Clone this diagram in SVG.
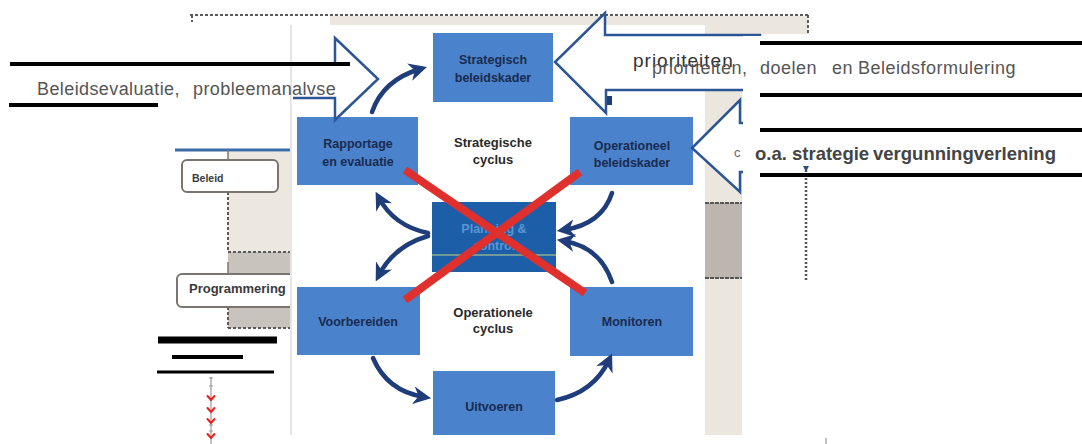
<svg xmlns="http://www.w3.org/2000/svg" width="1082" height="444" viewBox="0 0 1082 444">
  <style>
    .box { fill: #4a82cb; }
    .lbl { font-family: "Liberation Sans", Arial, sans-serif; font-weight: bold; font-size: 12.5px; fill: #1a2b50; text-anchor: middle; }
    .cyc { font-family: "Liberation Sans", Arial, sans-serif; font-weight: bold; font-size: 13px; fill: #2a2a2a; text-anchor: middle; }
    .flow { fill: none; stroke: #1f3d7a; stroke-width: 4.5; stroke-linecap: round; }
    .block { fill: #ffffff; stroke: #2c5596; stroke-width: 2.5; stroke-linejoin: miter; }
    .rule { stroke: #000000; }
    .note { font-family: "Liberation Sans", Arial, sans-serif; font-size: 18px; fill: #555555; }
    .cross { stroke: #e0302e; stroke-width: 8; stroke-linecap: butt; }
    .dash { fill: none; stroke: #5a5a5a; stroke-width: 2; stroke-dasharray: 3 2; }
  </style>
  <defs>
    <marker id="head" viewBox="0 0 10 10" refX="6" refY="5" markerWidth="4" markerHeight="4" orient="auto">
      <path d="M0,0 L10,5 L0,10 L3,5 Z" fill="#1f3d7a"/>
    </marker>
  </defs>

  <rect x="0" y="0" width="1082" height="444" fill="#ffffff"/>

  <!-- frame of the scanned sheet -->
  <rect x="330" y="16" width="478" height="10" fill="#ebe7de"/>
  <rect x="742" y="16" width="66" height="18" fill="#ebe7de"/>
  <line x1="190" y1="15" x2="808" y2="15" class="dash"/>
  <line x1="192" y1="15" x2="192" y2="22" class="dash"/>
  <line x1="808" y1="15" x2="808" y2="34" class="dash"/>

  <!-- left process column -->
  <g id="left-panel">
    <line x1="175" y1="150" x2="290" y2="150" stroke="#3d6aa8" stroke-width="3"/>
    <rect x="228" y="152" width="62" height="100" fill="#ece8e0"/>
    <rect x="228" y="252" width="62" height="30" fill="#c9c3bd"/>
    <rect x="228" y="307" width="62" height="21" fill="#c9c3bd"/>
    <line x1="228" y1="192" x2="228" y2="252" class="dash"/>
    <line x1="228" y1="252" x2="290" y2="252" class="dash"/>
    <line x1="228" y1="328" x2="290" y2="328" class="dash"/>
    <line x1="228" y1="307" x2="228" y2="328" class="dash"/>
    <line x1="228" y1="150" x2="228" y2="160" stroke="#777" stroke-width="1.5"/>
    <line x1="228" y1="262" x2="228" y2="274" stroke="#777" stroke-width="1.5"/>
    <g id="beleid">
      <rect x="182" y="160" width="96" height="32" rx="5" fill="#ffffff" stroke="#7a7570" stroke-width="2"/>
      <text x="192" y="182" font-family="'Liberation Sans', Arial, sans-serif" font-weight="bold" font-size="10.5" fill="#3a3a3a">Beleid</text>
    </g>
    <g id="programmering">
      <rect x="177" y="274" width="120" height="33" rx="5" fill="#ffffff" stroke="#7a7570" stroke-width="2"/>
      <text x="189" y="293" font-family="'Liberation Sans', Arial, sans-serif" font-weight="bold" font-size="13" fill="#3a3a3a">Programmering</text>
    </g>
  </g>

  <!-- cycle photo -->
  <rect x="290" y="25" width="415" height="410" fill="#ffffff"/>
  <line x1="291" y1="25" x2="291" y2="435" stroke="#dcdcdc" stroke-width="1.5"/>
  <rect x="705" y="25" width="37" height="410" fill="#ebe7de"/>
  <rect x="705" y="203" width="37" height="75" fill="#bdb6b0"/>
  <line x1="705" y1="203" x2="742" y2="203" stroke="#555" stroke-width="2" stroke-dasharray="4 1"/>
  <line x1="705" y1="278" x2="742" y2="278" stroke="#555" stroke-width="2" stroke-dasharray="4 1"/>

  <g id="strategisch-beleidskader">
    <rect class="box" x="433" y="33" width="120" height="69"/>
    <text class="lbl" x="493" y="64">Strategisch</text>
    <text class="lbl" x="493" y="82">beleidskader</text>
  </g>
  <g id="rapportage">
    <rect class="box" x="297" y="117" width="121" height="68"/>
    <text class="lbl" x="358" y="148">Rapportage</text>
    <text class="lbl" x="358" y="166">en evaluatie</text>
  </g>
  <g id="operationeel-beleidskader">
    <rect class="box" x="570" y="117" width="123" height="68"/>
    <text class="lbl" x="632" y="150">Operationeel</text>
    <text class="lbl" x="632" y="167">beleidskader</text>
  </g>
  <g id="planning">
    <rect x="432" y="202" width="124" height="70" fill="#1d5ea8"/>
    <line x1="432" y1="255" x2="556" y2="255" stroke="#c8d48a" stroke-width="1"/>
    <text class="lbl" x="494" y="233" style="fill:#5b95d2">Planning &amp;</text>
    <text class="lbl" x="494" y="250" style="fill:#5b95d2">control</text>
  </g>
  <g id="voorbereiden">
    <rect class="box" x="297" y="287" width="123" height="68"/>
    <text class="lbl" x="358" y="326">Voorbereiden</text>
  </g>
  <g id="monitoren">
    <rect class="box" x="570" y="287" width="123" height="69"/>
    <text class="lbl" x="632" y="326">Monitoren</text>
  </g>
  <g id="uitvoeren">
    <rect class="box" x="433" y="371" width="122" height="64"/>
    <text class="lbl" x="494" y="411">Uitvoeren</text>
  </g>

  <g id="cycle-labels">
    <text class="cyc" x="493" y="147">Strategische</text>
    <text class="cyc" x="493" y="164">cyclus</text>
    <text class="cyc" x="493" y="317">Operationele</text>
    <text class="cyc" x="493" y="333">cyclus</text>
  </g>

  <g id="connectors">
    <path class="flow" d="M372,112 Q383,80 420,69" marker-end="url(#head)"/>
    <path class="flow" d="M612,193 Q602,224 564,230" marker-end="url(#head)"/>
    <path class="flow" d="M612,282 Q600,247 564,241" marker-end="url(#head)"/>
    <path class="flow" d="M428,233 Q394,226 379,198" marker-end="url(#head)"/>
    <path class="flow" d="M428,236 Q394,246 379,275" marker-end="url(#head)"/>
    <path class="flow" d="M373,358 Q387,391 424,397" marker-end="url(#head)"/>
    <path class="flow" d="M557,400 Q594,392 609,360" marker-end="url(#head)"/>
    <rect x="606" y="96" width="6" height="9" fill="#1f3d7a"/>
  </g>

  <!-- block arrows feeding the cycle -->
  <g id="block-arrows">
    <polyline class="block" points="293,98 335,98 335,120 378,79 335,38 335,63"/>
    <polygon class="block" points="760,35 605,35 605,13 555,62 606,113 606,90 760,90"/>
    <polygon class="block" points="760,123 740,123 740,100 692,148 740,192 740,172 760,172"/>
  </g>

  <text x="633" y="67" font-family="'Liberation Sans', Arial, sans-serif" font-size="19" letter-spacing="1" fill="#333333">prioriteiten</text>

  <!-- crossed-out centre -->
  <g id="cross">
    <line class="cross" x1="405" y1="170" x2="585" y2="293"/>
    <line class="cross" x1="580" y1="172" x2="405" y2="300"/>
  </g>

  <!-- annotation area -->
  <rect x="743" y="36" width="339" height="408" fill="#ffffff"/>
  <line x1="806" y1="170" x2="806" y2="282" stroke="#555" stroke-width="2.5" stroke-dasharray="2 2"/>
  <path d="M803,166 L809,166 L806,172 Z" fill="#2c4f86"/>
  <line x1="826" y1="438" x2="826" y2="444" stroke="#aaa" stroke-width="1.5"/>

  <g id="annotations">
    <line class="rule" x1="10" y1="64" x2="350" y2="64" stroke-width="4"/>
    <line class="rule" x1="9" y1="105" x2="158" y2="105" stroke-width="4"/>
    <text class="note" y="95" letter-spacing="0.4"><tspan x="37">Beleidsevaluatie, </tspan><tspan x="193">probleemanalvse</tspan></text>

    <line class="rule" x1="760" y1="43" x2="1082" y2="43" stroke-width="4"/>
    <line class="rule" x1="760" y1="95" x2="1082" y2="95" stroke-width="4"/>
    <line class="rule" x1="760" y1="130" x2="1082" y2="130" stroke-width="4"/>
    <line class="rule" x1="760" y1="175" x2="1082" y2="175" stroke-width="4"/>
    <text class="note" y="74" letter-spacing="0.5"><tspan x="652">prioriteiten, </tspan><tspan x="760">doelen </tspan><tspan x="832">en </tspan><tspan x="858">Beleidsformulering</tspan></text>
    <text x="734" y="157" font-family="'Liberation Sans', Arial, sans-serif" font-size="13" fill="#666666">c</text>
    <text y="160" font-family="'Liberation Sans', Arial, sans-serif" font-weight="bold" font-size="18.5" fill="#444444"><tspan x="755">o.a. </tspan><tspan x="792">strategie </tspan><tspan x="873">vergunningverlening</tspan></text>

    <line class="rule" x1="158" y1="340" x2="277" y2="340" stroke-width="7"/>
    <line class="rule" x1="172" y1="357" x2="243" y2="357" stroke-width="4"/>
    <line class="rule" x1="157" y1="372" x2="274" y2="372" stroke-width="3"/>
  </g>

  <!-- dashed downward link with red arrowheads -->
  <g id="down-link">
    <line x1="211" y1="377" x2="211" y2="444" stroke="#9a9a9a" stroke-width="1.2"/>
    <line x1="209" y1="378" x2="213" y2="378" stroke="#999" stroke-width="1"/>
    <line x1="209" y1="386" x2="213" y2="386" stroke="#999" stroke-width="1"/>
    <line x1="209" y1="425" x2="213" y2="425" stroke="#999" stroke-width="1"/>
    <line x1="209" y1="431" x2="213" y2="431" stroke="#999" stroke-width="1"/>
    <g fill="none" stroke="#e8201e" stroke-width="2" stroke-linecap="round">
      <path d="M207.5,396 L211,400 L214.5,396"/>
      <path d="M207.5,408 L211,412 L214.5,408"/>
      <path d="M207.5,419 L211,423 L214.5,419"/>
      <path d="M207.5,434 L211,438 L214.5,434"/>
    </g>
  </g>
</svg>
